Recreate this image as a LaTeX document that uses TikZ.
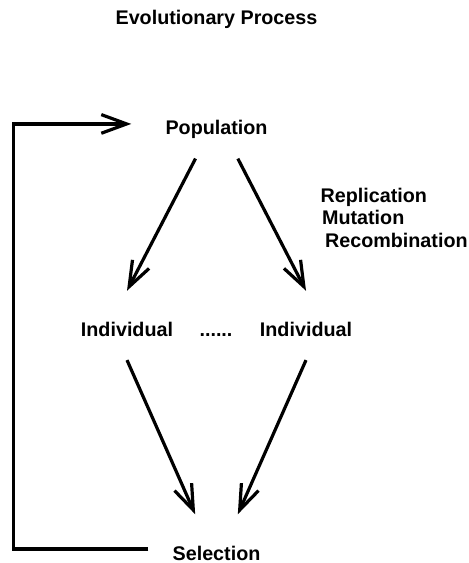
\documentclass[tikz,border=0pt]{standalone}
\usepackage{fontspec}
\setmainfont{Liberation Sans}
\usetikzlibrary{arrows.meta}

\tikzset{every picture/.style={line width=2.4pt}}
\tikzset{
  stage/.style={font=\fontsize{14.8}{17}\selectfont\bfseries, inner xsep=0pt, inner ysep=16.5pt, text height=16.6pt, text depth=0pt},
  note/.style={font=\fontsize{14.8}{17}\selectfont\bfseries, inner sep=0pt},
  flow/.style={line width=2.4pt, -{Straight Barb[length=19pt,width=14pt]}}
}

\begin{document}
\begin{tikzpicture}[x=0.75pt,y=0.75pt,yscale=-1,xscale=1]
\useasboundingbox (0,0) rectangle (468,563);

% Text Node
\draw (216.5,24.5) node [note, anchor=base] (title) {Evolutionary Process};
% Text Node
\draw (216.5,135) node [stage, anchor=base] (pop) {Population};
% Text Node
\draw (127,336.5) node [stage, anchor=base] (ind1) {Individual};
% Text Node
\draw (216,336.5) node [note, anchor=base] (dots) {......};
% Text Node
\draw (306,336.5) node [stage, anchor=base] (ind2) {Individual};
% Text Node
\draw (216.5,560) node [stage, anchor=base] (sel) {Selection};
% Text Node
\draw (319,202) node [note, anchor=base west] (rep) {Replication};
% Text Node
\draw (320.5,224.5) node [note, anchor=base west] (mut) {Mutation};
% Text Node
\draw (323.5,247) node [note, anchor=base west] (rec) {Recombination};

%Straight Lines
\draw [flow] ([xshift=-15.75pt]pop.south) -- (ind1.north) ;
\draw [flow] ([xshift=16pt]pop.south) -- (ind2.north) ;
%Straight Lines
\draw [flow] (ind1.south) -- ([xshift=-16pt]sel.north) ;
\draw [flow] (ind2.south) -- ([xshift=16pt]sel.north) ;
%Feedback loop
\draw [flow] ([xshift=-17pt]sel.west) -- ++(-135,0) |- ([xshift=-24.5pt]pop.west) ;

\end{tikzpicture}
\end{document}
